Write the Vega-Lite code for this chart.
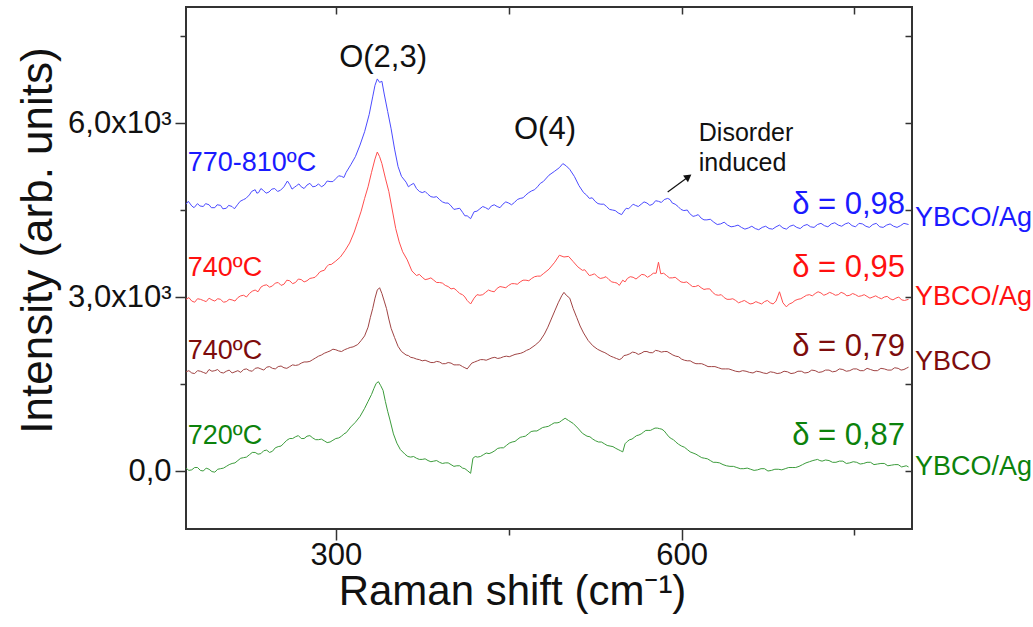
{
  "$schema": "https://vega.github.io/schema/vega-lite/v6.json",
  "width": 726,
  "height": 522,
  "autosize": "none",
  "padding": {"left": 186, "top": 7, "right": 121, "bottom": 98},
  "background": "white",
  "config": {
    "font": "Liberation Sans",
    "view": {"stroke": "#333333", "strokeWidth": 2},
    "axis": {"grid": false, "domain": false, "tickColor": "#333333", "tickWidth": 1.5, "labelColor": "#111111", "titleColor": "#111111", "titleFontWeight": "normal", "labelOverlap": false, "labelFlush": false}
  },
  "datasets": {
    "ag790": [
      {"shift":170,"intensity":4600},{"shift":175,"intensity":4570},{"shift":180,"intensity":4610},{"shift":185,"intensity":4560},{"shift":190,"intensity":4590},{"shift":195,"intensity":4540},{"shift":200,"intensity":4580},{"shift":205,"intensity":4530},{"shift":210,"intensity":4560},{"shift":215,"intensity":4600},{"shift":220,"intensity":4680},{"shift":225,"intensity":4760},{"shift":230,"intensity":4850},{"shift":233,"intensity":4800},{"shift":237,"intensity":4840},{"shift":242,"intensity":4810},{"shift":247,"intensity":4870},{"shift":252,"intensity":4840},{"shift":255,"intensity":4900},{"shift":258,"intensity":5000},{"shift":262,"intensity":4860},{"shift":266,"intensity":4920},{"shift":270,"intensity":4900},{"shift":275,"intensity":4930},{"shift":280,"intensity":4900},{"shift":285,"intensity":4950},{"shift":290,"intensity":4930},{"shift":295,"intensity":4990},{"shift":300,"intensity":5040},{"shift":305,"intensity":5080},{"shift":309,"intensity":5150},{"shift":313,"intensity":5280},{"shift":317,"intensity":5420},{"shift":321,"intensity":5620},{"shift":325,"intensity":5850},{"shift":329,"intensity":6150},{"shift":332,"intensity":6450},{"shift":334,"intensity":6650},{"shift":336,"intensity":6760},{"shift":338,"intensity":6700},{"shift":340,"intensity":6720},{"shift":342,"intensity":6500},{"shift":345,"intensity":6200},{"shift":348,"intensity":5900},{"shift":351,"intensity":5550},{"shift":354,"intensity":5250},{"shift":357,"intensity":5080},{"shift":361,"intensity":4980},{"shift":365,"intensity":4930},{"shift":370,"intensity":4870},{"shift":375,"intensity":4800},{"shift":380,"intensity":4770},{"shift":385,"intensity":4720},{"shift":390,"intensity":4680},{"shift":395,"intensity":4620},{"shift":400,"intensity":4570},{"shift":405,"intensity":4520},{"shift":410,"intensity":4460},{"shift":414,"intensity":4400},{"shift":417,"intensity":4350},{"shift":420,"intensity":4470},{"shift":425,"intensity":4520},{"shift":430,"intensity":4540},{"shift":435,"intensity":4570},{"shift":440,"intensity":4560},{"shift":445,"intensity":4600},{"shift":450,"intensity":4620},{"shift":455,"intensity":4630},{"shift":460,"intensity":4700},{"shift":465,"intensity":4760},{"shift":470,"intensity":4830},{"shift":475,"intensity":4900},{"shift":480,"intensity":4990},{"shift":485,"intensity":5100},{"shift":490,"intensity":5170},{"shift":494,"intensity":5230},{"shift":497,"intensity":5300},{"shift":500,"intensity":5260},{"shift":503,"intensity":5200},{"shift":507,"intensity":5080},{"shift":511,"intensity":4920},{"shift":515,"intensity":4800},{"shift":520,"intensity":4700},{"shift":525,"intensity":4650},{"shift":530,"intensity":4600},{"shift":535,"intensity":4560},{"shift":540,"intensity":4500},{"shift":545,"intensity":4450},{"shift":548,"intensity":4420},{"shift":552,"intensity":4530},{"shift":556,"intensity":4560},{"shift":560,"intensity":4580},{"shift":565,"intensity":4600},{"shift":570,"intensity":4620},{"shift":575,"intensity":4600},{"shift":580,"intensity":4650},{"shift":585,"intensity":4680},{"shift":588,"intensity":4700},{"shift":592,"intensity":4620},{"shift":597,"intensity":4560},{"shift":602,"intensity":4490},{"shift":607,"intensity":4440},{"shift":612,"intensity":4400},{"shift":617,"intensity":4360},{"shift":622,"intensity":4330},{"shift":628,"intensity":4290},{"shift":634,"intensity":4260},{"shift":640,"intensity":4240},{"shift":646,"intensity":4220},{"shift":652,"intensity":4200},{"shift":658,"intensity":4190},{"shift":664,"intensity":4180},{"shift":670,"intensity":4200},{"shift":676,"intensity":4180},{"shift":682,"intensity":4210},{"shift":688,"intensity":4190},{"shift":694,"intensity":4220},{"shift":700,"intensity":4200},{"shift":706,"intensity":4230},{"shift":712,"intensity":4210},{"shift":718,"intensity":4250},{"shift":724,"intensity":4230},{"shift":730,"intensity":4260},{"shift":736,"intensity":4240},{"shift":742,"intensity":4260},{"shift":748,"intensity":4230},{"shift":754,"intensity":4270},{"shift":760,"intensity":4220},{"shift":766,"intensity":4250},{"shift":772,"intensity":4210},{"shift":778,"intensity":4240},{"shift":784,"intensity":4220},{"shift":790,"intensity":4230},{"shift":797,"intensity":4250},
      {"shift":172,"intensity":4650},{"shift":177,"intensity":4540},{"shift":182,"intensity":4570},{"shift":187,"intensity":4610},{"shift":192,"intensity":4540},{"shift":197,"intensity":4590},{"shift":202,"intensity":4520},{"shift":207,"intensity":4580},{"shift":212,"intensity":4520},{"shift":217,"intensity":4650},{"shift":222,"intensity":4700},{"shift":227,"intensity":4820},{"shift":231.5,"intensity":4790},{"shift":235,"intensity":4870},{"shift":239.5,"intensity":4790},{"shift":244.5,"intensity":4860},{"shift":249.5,"intensity":4820},{"shift":260,"intensity":4940},{"shift":264,"intensity":4890},{"shift":268,"intensity":4950},{"shift":272.5,"intensity":4870},{"shift":277.5,"intensity":4960},{"shift":282.5,"intensity":4910},{"shift":287.5,"intensity":4900},{"shift":292.5,"intensity":5000},{"shift":297.5,"intensity":4990},{"shift":302.5,"intensity":5090},{"shift":307,"intensity":5060},
      {"shift":363,"intensity":4900},{"shift":367.5,"intensity":4960},{"shift":372.5,"intensity":4820},{"shift":377.5,"intensity":4820},{"shift":382.5,"intensity":4730},{"shift":387.5,"intensity":4730},{"shift":392.5,"intensity":4640},{"shift":397.5,"intensity":4620},{"shift":402.5,"intensity":4510},{"shift":407.5,"intensity":4530},{"shift":412,"intensity":4400},{"shift":422.5,"intensity":4480},{"shift":427.5,"intensity":4560},{"shift":432.5,"intensity":4510},{"shift":437.5,"intensity":4590},{"shift":442.5,"intensity":4540},{"shift":447.5,"intensity":4640},{"shift":452.5,"intensity":4590},{"shift":457.5,"intensity":4680},{"shift":462.5,"intensity":4710},{"shift":467.5,"intensity":4800},{"shift":472.5,"intensity":4850},{"shift":477.5,"intensity":4960},
      {"shift":517.5,"intensity":4760},{"shift":522.5,"intensity":4710},{"shift":527.5,"intensity":4610},{"shift":532.5,"intensity":4600},{"shift":537.5,"intensity":4510},{"shift":542.5,"intensity":4490},{"shift":550,"intensity":4480},{"shift":554,"intensity":4520},{"shift":558,"intensity":4600},{"shift":562.5,"intensity":4560},{"shift":567.5,"intensity":4640},{"shift":572.5,"intensity":4580},{"shift":577.5,"intensity":4660},{"shift":582.5,"intensity":4630},{"shift":590,"intensity":4680},{"shift":594.5,"intensity":4600},{"shift":599.5,"intensity":4510},
      {"shift":605,"intensity":4500},{"shift":610,"intensity":4390},{"shift":614.5,"intensity":4420},{"shift":619.5,"intensity":4330},{"shift":625,"intensity":4340},{"shift":631,"intensity":4250},{"shift":637,"intensity":4290},{"shift":643,"intensity":4210},{"shift":649,"intensity":4240},{"shift":655,"intensity":4170},{"shift":661,"intensity":4220},{"shift":667,"intensity":4160},{"shift":673,"intensity":4220},{"shift":679,"intensity":4170},{"shift":685,"intensity":4240},{"shift":691,"intensity":4170},{"shift":697,"intensity":4240},{"shift":703,"intensity":4180},{"shift":709,"intensity":4250},{"shift":715,"intensity":4200},{"shift":721,"intensity":4270},{"shift":727,"intensity":4210},{"shift":733,"intensity":4280},{"shift":739,"intensity":4220},{"shift":745,"intensity":4280},{"shift":751,"intensity":4210},{"shift":757,"intensity":4260},{"shift":763,"intensity":4200},{"shift":769,"intensity":4270},{"shift":775,"intensity":4200},{"shift":781,"intensity":4260},{"shift":787,"intensity":4200},{"shift":793,"intensity":4270}
    ],
    "ag740": [
      {"shift":170,"intensity":2960},{"shift":175,"intensity":2930},{"shift":180,"intensity":2970},{"shift":185,"intensity":2940},{"shift":190,"intensity":2980},{"shift":195,"intensity":2930},{"shift":200,"intensity":2960},{"shift":205,"intensity":2920},{"shift":210,"intensity":2950},{"shift":215,"intensity":2990},{"shift":220,"intensity":3030},{"shift":225,"intensity":3060},{"shift":230,"intensity":3120},{"shift":235,"intensity":3170},{"shift":240,"intensity":3210},{"shift":245,"intensity":3190},{"shift":250,"intensity":3250},{"shift":255,"intensity":3220},{"shift":260,"intensity":3280},{"shift":265,"intensity":3250},{"shift":270,"intensity":3300},{"shift":275,"intensity":3280},{"shift":280,"intensity":3330},{"shift":284,"intensity":3380},{"shift":288,"intensity":3450},{"shift":292,"intensity":3520},{"shift":296,"intensity":3560},{"shift":300,"intensity":3620},{"shift":304,"intensity":3690},{"shift":308,"intensity":3800},{"shift":312,"intensity":3930},{"shift":316,"intensity":4120},{"shift":319,"intensity":4300},{"shift":322,"intensity":4480},{"shift":325,"intensity":4700},{"shift":328,"intensity":4900},{"shift":331,"intensity":5150},{"shift":334,"intensity":5380},{"shift":336,"intensity":5500},{"shift":338,"intensity":5420},{"shift":340,"intensity":5300},{"shift":343,"intensity":5050},{"shift":346,"intensity":4820},{"shift":349,"intensity":4500},{"shift":352,"intensity":4180},{"shift":355,"intensity":3950},{"shift":358,"intensity":3780},{"shift":362,"intensity":3640},{"shift":366,"intensity":3450},{"shift":370,"intensity":3370},{"shift":375,"intensity":3340},{"shift":380,"intensity":3310},{"shift":385,"intensity":3290},{"shift":390,"intensity":3250},{"shift":395,"intensity":3200},{"shift":400,"intensity":3140},{"shift":405,"intensity":3110},{"shift":410,"intensity":3040},{"shift":414,"intensity":2940},{"shift":417,"intensity":2880},{"shift":420,"intensity":2980},{"shift":425,"intensity":3030},{"shift":430,"intensity":3080},{"shift":435,"intensity":3100},{"shift":440,"intensity":3150},{"shift":445,"intensity":3170},{"shift":450,"intensity":3200},{"shift":455,"intensity":3230},{"shift":460,"intensity":3260},{"shift":465,"intensity":3290},{"shift":470,"intensity":3320},{"shift":475,"intensity":3360},{"shift":480,"intensity":3400},{"shift":485,"intensity":3480},{"shift":490,"intensity":3600},{"shift":494,"intensity":3720},{"shift":498,"intensity":3690},{"shift":502,"intensity":3700},{"shift":506,"intensity":3610},{"shift":510,"intensity":3520},{"shift":514,"intensity":3460},{"shift":518,"intensity":3420},{"shift":522,"intensity":3380},{"shift":527,"intensity":3350},{"shift":532,"intensity":3330},{"shift":537,"intensity":3300},{"shift":542,"intensity":3250},{"shift":546,"intensity":3200},{"shift":549,"intensity":3290},{"shift":553,"intensity":3320},{"shift":558,"intensity":3340},{"shift":563,"intensity":3350},{"shift":568,"intensity":3380},{"shift":573,"intensity":3370},{"shift":578,"intensity":3410},{"shift":580,"intensity":3600},{"shift":582,"intensity":3400},{"shift":587,"intensity":3370},{"shift":592,"intensity":3330},{"shift":597,"intensity":3300},{"shift":602,"intensity":3250},{"shift":607,"intensity":3220},{"shift":612,"intensity":3180},{"shift":617,"intensity":3160},{"shift":622,"intensity":3140},{"shift":627,"intensity":3080},{"shift":632,"intensity":3030},{"shift":637,"intensity":2990},{"shift":642,"intensity":2960},{"shift":647,"intensity":2940},{"shift":652,"intensity":2920},{"shift":657,"intensity":2910},{"shift":662,"intensity":2890},{"shift":667,"intensity":2900},{"shift":672,"intensity":2920},{"shift":677,"intensity":2900},{"shift":682,"intensity":2930},{"shift":685,"intensity":3090},{"shift":688,"intensity":2900},{"shift":691,"intensity":2830},{"shift":696,"intensity":2900},{"shift":701,"intensity":2960},{"shift":706,"intensity":3000},{"shift":711,"intensity":3040},{"shift":716,"intensity":3060},{"shift":721,"intensity":3070},{"shift":726,"intensity":3050},{"shift":731,"intensity":3060},{"shift":736,"intensity":3040},{"shift":741,"intensity":3060},{"shift":746,"intensity":3030},{"shift":751,"intensity":3040},{"shift":756,"intensity":3020},{"shift":761,"intensity":3010},{"shift":766,"intensity":3000},{"shift":771,"intensity":2990},{"shift":776,"intensity":3000},{"shift":781,"intensity":2970},{"shift":786,"intensity":2980},{"shift":791,"intensity":2950},{"shift":797,"intensity":2960},
      {"shift":172.5,"intensity":2990},{"shift":177.5,"intensity":2910},{"shift":182.5,"intensity":2960},{"shift":187.5,"intensity":2920},{"shift":192.5,"intensity":2950},{"shift":197.5,"intensity":2970},{"shift":202.5,"intensity":2910},{"shift":207.5,"intensity":2960},{"shift":212.5,"intensity":2930},{"shift":217.5,"intensity":3020},{"shift":222.5,"intensity":3000},{"shift":227.5,"intensity":3100},{"shift":232.5,"intensity":3090},{"shift":237.5,"intensity":3200},{"shift":242.5,"intensity":3170},{"shift":247.5,"intensity":3240},{"shift":252.5,"intensity":3200},{"shift":257.5,"intensity":3290},{"shift":262.5,"intensity":3230},{"shift":267.5,"intensity":3310},{"shift":272.5,"intensity":3260},{"shift":277.5,"intensity":3320},{"shift":282,"intensity":3340},{"shift":286,"intensity":3430},{"shift":290,"intensity":3460},{"shift":294,"intensity":3560},
      {"shift":372.5,"intensity":3390},{"shift":377.5,"intensity":3300},{"shift":382.5,"intensity":3330},{"shift":387.5,"intensity":3250},{"shift":392.5,"intensity":3240},{"shift":397.5,"intensity":3180},{"shift":402.5,"intensity":3150},{"shift":407.5,"intensity":3060},{"shift":412,"intensity":3000},{"shift":422.5,"intensity":3040},{"shift":427.5,"intensity":3040},{"shift":432.5,"intensity":3120},{"shift":437.5,"intensity":3090},{"shift":442.5,"intensity":3180},{"shift":447.5,"intensity":3160},{"shift":452.5,"intensity":3230},{"shift":457.5,"intensity":3220},{"shift":462.5,"intensity":3290},{"shift":467.5,"intensity":3280},{"shift":472.5,"intensity":3350},{"shift":477.5,"intensity":3360},
      {"shift":516,"intensity":3470},{"shift":520,"intensity":3370},{"shift":524.5,"intensity":3400},{"shift":529.5,"intensity":3320},{"shift":534.5,"intensity":3350},{"shift":539.5,"intensity":3260},{"shift":544,"intensity":3240},{"shift":551,"intensity":3260},{"shift":555.5,"intensity":3350},{"shift":560.5,"intensity":3310},{"shift":565.5,"intensity":3390},{"shift":570.5,"intensity":3340},{"shift":575.5,"intensity":3410},{"shift":584.5,"intensity":3410},{"shift":589.5,"intensity":3330},{"shift":594.5,"intensity":3340},{"shift":599.5,"intensity":3260},{"shift":604.5,"intensity":3260},{"shift":609.5,"intensity":3180},{"shift":614.5,"intensity":3200},{"shift":619.5,"intensity":3130},{"shift":624.5,"intensity":3140},{"shift":629.5,"intensity":3040},{"shift":634.5,"intensity":3040},{"shift":639.5,"intensity":2960},{"shift":644.5,"intensity":2970},{"shift":649.5,"intensity":2900},{"shift":654.5,"intensity":2940},{"shift":659.5,"intensity":2880},{"shift":664.5,"intensity":2920},{"shift":669.5,"intensity":2880},{"shift":674.5,"intensity":2940},{"shift":679.5,"intensity":2880},{"shift":693.5,"intensity":2880},{"shift":698.5,"intensity":2940},{"shift":703.5,"intensity":2970},{"shift":708.5,"intensity":3030},{"shift":713.5,"intensity":3020},{"shift":718.5,"intensity":3090},{"shift":723.5,"intensity":3030},{"shift":728.5,"intensity":3080},{"shift":733.5,"intensity":3030},{"shift":738.5,"intensity":3080},{"shift":743.5,"intensity":3020},{"shift":748.5,"intensity":3060},{"shift":753.5,"intensity":3010},{"shift":758.5,"intensity":3040},{"shift":763.5,"intensity":2980},{"shift":768.5,"intensity":3020},{"shift":773.5,"intensity":2970},{"shift":778.5,"intensity":3010},{"shift":783.5,"intensity":2950},{"shift":788.5,"intensity":3000},{"shift":793.5,"intensity":2940}
    ],
    "ybco740": [
      {"shift":170,"intensity":1710},{"shift":175,"intensity":1690},{"shift":180,"intensity":1730},{"shift":185,"intensity":1700},{"shift":190,"intensity":1750},{"shift":195,"intensity":1730},{"shift":200,"intensity":1700},{"shift":205,"intensity":1720},{"shift":210,"intensity":1690},{"shift":215,"intensity":1730},{"shift":220,"intensity":1750},{"shift":225,"intensity":1730},{"shift":230,"intensity":1770},{"shift":235,"intensity":1760},{"shift":240,"intensity":1790},{"shift":245,"intensity":1770},{"shift":250,"intensity":1800},{"shift":255,"intensity":1780},{"shift":260,"intensity":1800},{"shift":265,"intensity":1820},{"shift":270,"intensity":1860},{"shift":275,"intensity":1880},{"shift":280,"intensity":1920},{"shift":285,"intensity":1980},{"shift":290,"intensity":2030},{"shift":295,"intensity":2070},{"shift":300,"intensity":2090},{"shift":305,"intensity":2060},{"shift":310,"intensity":2110},{"shift":315,"intensity":2140},{"shift":319,"intensity":2180},{"shift":322,"intensity":2250},{"shift":325,"intensity":2330},{"shift":328,"intensity":2480},{"shift":330,"intensity":2650},{"shift":332,"intensity":2800},{"shift":334,"intensity":2980},{"shift":336,"intensity":3120},{"shift":338,"intensity":3160},{"shift":340,"intensity":3060},{"shift":342,"intensity":2930},{"shift":344,"intensity":2800},{"shift":346,"intensity":2620},{"shift":348,"intensity":2460},{"shift":351,"intensity":2300},{"shift":354,"intensity":2150},{"shift":357,"intensity":2060},{"shift":361,"intensity":2000},{"shift":365,"intensity":1960},{"shift":370,"intensity":1930},{"shift":375,"intensity":1900},{"shift":380,"intensity":1890},{"shift":385,"intensity":1870},{"shift":390,"intensity":1880},{"shift":395,"intensity":1850},{"shift":400,"intensity":1860},{"shift":405,"intensity":1830},{"shift":410,"intensity":1800},{"shift":414,"intensity":1760},{"shift":418,"intensity":1860},{"shift":423,"intensity":1900},{"shift":428,"intensity":1920},{"shift":433,"intensity":1930},{"shift":438,"intensity":1960},{"shift":443,"intensity":1950},{"shift":448,"intensity":1980},{"shift":453,"intensity":1990},{"shift":458,"intensity":2020},{"shift":463,"intensity":2050},{"shift":468,"intensity":2100},{"shift":473,"intensity":2170},{"shift":477,"intensity":2240},{"shift":481,"intensity":2360},{"shift":484,"intensity":2480},{"shift":487,"intensity":2620},{"shift":490,"intensity":2760},{"shift":493,"intensity":2900},{"shift":496,"intensity":3020},{"shift":498,"intensity":3080},{"shift":500,"intensity":3030},{"shift":503,"intensity":2980},{"shift":506,"intensity":2800},{"shift":509,"intensity":2650},{"shift":512,"intensity":2500},{"shift":515,"intensity":2380},{"shift":519,"intensity":2250},{"shift":523,"intensity":2160},{"shift":527,"intensity":2100},{"shift":531,"intensity":2060},{"shift":536,"intensity":2010},{"shift":541,"intensity":1960},{"shift":546,"intensity":1920},{"shift":550,"intensity":1990},{"shift":555,"intensity":2020},{"shift":560,"intensity":2040},{"shift":565,"intensity":2030},{"shift":570,"intensity":2060},{"shift":575,"intensity":2040},{"shift":580,"intensity":2070},{"shift":585,"intensity":2060},{"shift":590,"intensity":2030},{"shift":595,"intensity":1980},{"shift":600,"intensity":1930},{"shift":605,"intensity":1900},{"shift":610,"intensity":1870},{"shift":615,"intensity":1850},{"shift":620,"intensity":1830},{"shift":626,"intensity":1800},{"shift":632,"intensity":1780},{"shift":638,"intensity":1760},{"shift":644,"intensity":1740},{"shift":650,"intensity":1710},{"shift":656,"intensity":1720},{"shift":662,"intensity":1690},{"shift":668,"intensity":1710},{"shift":674,"intensity":1680},{"shift":680,"intensity":1700},{"shift":686,"intensity":1690},{"shift":692,"intensity":1710},{"shift":698,"intensity":1690},{"shift":704,"intensity":1720},{"shift":710,"intensity":1700},{"shift":716,"intensity":1730},{"shift":722,"intensity":1710},{"shift":728,"intensity":1740},{"shift":734,"intensity":1720},{"shift":740,"intensity":1750},{"shift":746,"intensity":1730},{"shift":752,"intensity":1760},{"shift":758,"intensity":1730},{"shift":764,"intensity":1750},{"shift":770,"intensity":1730},{"shift":776,"intensity":1760},{"shift":782,"intensity":1740},{"shift":788,"intensity":1770},{"shift":793,"intensity":1750},{"shift":797,"intensity":1790},
      {"shift":172.5,"intensity":1730},{"shift":177.5,"intensity":1680},{"shift":182.5,"intensity":1720},{"shift":187.5,"intensity":1680},{"shift":192.5,"intensity":1720},{"shift":197.5,"intensity":1750},{"shift":202.5,"intensity":1690},{"shift":207.5,"intensity":1740},{"shift":212.5,"intensity":1710},{"shift":217.5,"intensity":1700},{"shift":222.5,"intensity":1760},{"shift":227.5,"intensity":1720},{"shift":232.5,"intensity":1780},{"shift":237.5,"intensity":1740},{"shift":242.5,"intensity":1800},{"shift":247.5,"intensity":1760},{"shift":252.5,"intensity":1810},{"shift":257.5,"intensity":1770},{"shift":262.5,"intensity":1830},{"shift":267.5,"intensity":1830},{"shift":272.5,"intensity":1880},{"shift":277.5,"intensity":1890},{"shift":282.5,"intensity":1950},{"shift":287.5,"intensity":2000},{"shift":292.5,"intensity":2050},{"shift":297.5,"intensity":2100},{"shift":302.5,"intensity":2070},{"shift":307.5,"intensity":2090},{"shift":312.5,"intensity":2130},
      {"shift":363,"intensity":1990},{"shift":367.5,"intensity":1950},{"shift":372.5,"intensity":1920},{"shift":377.5,"intensity":1910},{"shift":382.5,"intensity":1870},{"shift":387.5,"intensity":1890},{"shift":392.5,"intensity":1850},{"shift":397.5,"intensity":1870},{"shift":402.5,"intensity":1830},{"shift":407.5,"intensity":1830},{"shift":412,"intensity":1780},{"shift":420.5,"intensity":1880},{"shift":425.5,"intensity":1920},{"shift":430.5,"intensity":1910},{"shift":435.5,"intensity":1950},{"shift":440.5,"intensity":1940},{"shift":445.5,"intensity":1970},{"shift":450.5,"intensity":1970},{"shift":455.5,"intensity":2010},{"shift":460.5,"intensity":2030},{"shift":465.5,"intensity":2080},
      {"shift":533.5,"intensity":2040},{"shift":538.5,"intensity":1980},{"shift":543.5,"intensity":1940},{"shift":548,"intensity":1940},{"shift":552.5,"intensity":2000},{"shift":557.5,"intensity":2050},{"shift":562.5,"intensity":2010},{"shift":567.5,"intensity":2060},{"shift":572.5,"intensity":2040},{"shift":577.5,"intensity":2080},{"shift":582.5,"intensity":2050},{"shift":587.5,"intensity":2060},{"shift":592.5,"intensity":2000},{"shift":597.5,"intensity":1970},{"shift":602.5,"intensity":1910},{"shift":607.5,"intensity":1900},{"shift":612.5,"intensity":1850},{"shift":617.5,"intensity":1850},{"shift":623,"intensity":1800},{"shift":629,"intensity":1800},{"shift":635,"intensity":1760},{"shift":641,"intensity":1760},{"shift":647,"intensity":1720},{"shift":653,"intensity":1730},{"shift":659,"intensity":1700},{"shift":665,"intensity":1720},{"shift":671,"intensity":1690},{"shift":677,"intensity":1710},{"shift":683,"intensity":1680},{"shift":689,"intensity":1720},{"shift":695,"intensity":1680},{"shift":701,"intensity":1720},{"shift":707,"intensity":1690},{"shift":713,"intensity":1740},{"shift":719,"intensity":1700},{"shift":725,"intensity":1740},{"shift":731,"intensity":1710},{"shift":737,"intensity":1760},{"shift":743,"intensity":1720},{"shift":749,"intensity":1760},{"shift":755,"intensity":1730},{"shift":761,"intensity":1770},{"shift":767,"intensity":1730},{"shift":773,"intensity":1770},{"shift":779,"intensity":1740},{"shift":785,"intensity":1780},{"shift":790.5,"intensity":1740},{"shift":795,"intensity":1770}
    ],
    "ag720": [
      {"shift":170,"intensity":50},{"shift":175,"intensity":20},{"shift":180,"intensity":60},{"shift":185,"intensity":0},{"shift":190,"intensity":30},{"shift":195,"intensity":-20},{"shift":200,"intensity":40},{"shift":205,"intensity":80},{"shift":210,"intensity":130},{"shift":215,"intensity":180},{"shift":220,"intensity":230},{"shift":225,"intensity":280},{"shift":230,"intensity":320},{"shift":235,"intensity":300},{"shift":240,"intensity":360},{"shift":245,"intensity":340},{"shift":250,"intensity":420},{"shift":255,"intensity":480},{"shift":260,"intensity":560},{"shift":265,"intensity":590},{"shift":270,"intensity":560},{"shift":275,"intensity":600},{"shift":280,"intensity":570},{"shift":285,"intensity":540},{"shift":290,"intensity":520},{"shift":295,"intensity":500},{"shift":300,"intensity":560},{"shift":305,"intensity":600},{"shift":309,"intensity":660},{"shift":313,"intensity":760},{"shift":317,"intensity":840},{"shift":321,"intensity":940},{"shift":325,"intensity":1080},{"shift":328,"intensity":1200},{"shift":331,"intensity":1320},{"shift":333,"intensity":1420},{"shift":335,"intensity":1510},{"shift":337,"intensity":1540},{"shift":339,"intensity":1470},{"shift":341,"intensity":1390},{"shift":343,"intensity":1200},{"shift":345,"intensity":1030},{"shift":347,"intensity":880},{"shift":350,"intensity":640},{"shift":353,"intensity":480},{"shift":356,"intensity":370},{"shift":360,"intensity":290},{"shift":365,"intensity":240},{"shift":370,"intensity":220},{"shift":375,"intensity":200},{"shift":380,"intensity":180},{"shift":385,"intensity":170},{"shift":390,"intensity":150},{"shift":395,"intensity":140},{"shift":400,"intensity":110},{"shift":405,"intensity":90},{"shift":410,"intensity":50},{"shift":414,"intensity":10},{"shift":417,"intensity":-40},{"shift":419,"intensity":220},{"shift":423,"intensity":240},{"shift":428,"intensity":280},{"shift":433,"intensity":300},{"shift":438,"intensity":350},{"shift":443,"intensity":400},{"shift":448,"intensity":440},{"shift":453,"intensity":500},{"shift":458,"intensity":550},{"shift":462,"intensity":590},{"shift":467,"intensity":640},{"shift":472,"intensity":690},{"shift":477,"intensity":720},{"shift":482,"intensity":760},{"shift":487,"intensity":800},{"shift":492,"intensity":830},{"shift":496,"intensity":870},{"shift":499,"intensity":910},{"shift":502,"intensity":870},{"shift":506,"intensity":820},{"shift":510,"intensity":740},{"shift":514,"intensity":650},{"shift":518,"intensity":600},{"shift":523,"intensity":550},{"shift":528,"intensity":500},{"shift":533,"intensity":470},{"shift":538,"intensity":430},{"shift":543,"intensity":390},{"shift":547,"intensity":350},{"shift":551,"intensity":470},{"shift":555,"intensity":540},{"shift":559,"intensity":580},{"shift":563,"intensity":620},{"shift":567,"intensity":670},{"shift":571,"intensity":700},{"shift":575,"intensity":720},{"shift":579,"intensity":740},{"shift":583,"intensity":720},{"shift":587,"intensity":640},{"shift":591,"intensity":560},{"shift":595,"intensity":500},{"shift":600,"intensity":430},{"shift":605,"intensity":370},{"shift":610,"intensity":310},{"shift":615,"intensity":260},{"shift":620,"intensity":220},{"shift":625,"intensity":180},{"shift":630,"intensity":150},{"shift":636,"intensity":110},{"shift":642,"intensity":80},{"shift":648,"intensity":60},{"shift":654,"intensity":40},{"shift":660,"intensity":30},{"shift":666,"intensity":20},{"shift":672,"intensity":40},{"shift":678,"intensity":10},{"shift":684,"intensity":30},{"shift":690,"intensity":40},{"shift":696,"intensity":60},{"shift":702,"intensity":80},{"shift":708,"intensity":140},{"shift":714,"intensity":180},{"shift":718,"intensity":200},{"shift":722,"intensity":170},{"shift":728,"intensity":180},{"shift":734,"intensity":150},{"shift":740,"intensity":170},{"shift":746,"intensity":140},{"shift":752,"intensity":150},{"shift":758,"intensity":130},{"shift":764,"intensity":150},{"shift":770,"intensity":120},{"shift":776,"intensity":130},{"shift":782,"intensity":100},{"shift":788,"intensity":110},{"shift":793,"intensity":80},{"shift":797,"intensity":70},
      {"shift":172.5,"intensity":10},{"shift":177.5,"intensity":60},{"shift":182.5,"intensity":10},{"shift":187.5,"intensity":50},{"shift":192.5,"intensity":-10},{"shift":197.5,"intensity":30},{"shift":202.5,"intensity":50},{"shift":207.5,"intensity":110},{"shift":212.5,"intensity":140},{"shift":217.5,"intensity":220},{"shift":222.5,"intensity":240},{"shift":227.5,"intensity":320},{"shift":232.5,"intensity":290},{"shift":237.5,"intensity":350},{"shift":242.5,"intensity":320},{"shift":247.5,"intensity":400},{"shift":252.5,"intensity":430},{"shift":257.5,"intensity":530},{"shift":262.5,"intensity":560},{"shift":267.5,"intensity":610},{"shift":272.5,"intensity":560},{"shift":277.5,"intensity":610},{"shift":282.5,"intensity":540},{"shift":287.5,"intensity":550},{"shift":292.5,"intensity":490},{"shift":297.5,"intensity":530},{"shift":302.5,"intensity":570},{"shift":307,"intensity":640},
      {"shift":362.5,"intensity":250},{"shift":367.5,"intensity":250},{"shift":372.5,"intensity":200},{"shift":377.5,"intensity":210},{"shift":382.5,"intensity":160},{"shift":387.5,"intensity":180},{"shift":392.5,"intensity":130},{"shift":397.5,"intensity":140},{"shift":402.5,"intensity":80},{"shift":407.5,"intensity":90},{"shift":412,"intensity":40},{"shift":421,"intensity":250},{"shift":425.5,"intensity":250},{"shift":430.5,"intensity":310},{"shift":435.5,"intensity":320},{"shift":440.5,"intensity":390},{"shift":445.5,"intensity":400},{"shift":450.5,"intensity":480},{"shift":455.5,"intensity":510},{"shift":460,"intensity":580},{"shift":464.5,"intensity":600},{"shift":469.5,"intensity":680},{"shift":474.5,"intensity":690},{"shift":479.5,"intensity":750},{"shift":484.5,"intensity":770},{"shift":489.5,"intensity":830},{"shift":494,"intensity":840},
      {"shift":520.5,"intensity":590},{"shift":525.5,"intensity":520},{"shift":530.5,"intensity":500},{"shift":535.5,"intensity":440},{"shift":540.5,"intensity":420},{"shift":545,"intensity":370},{"shift":549,"intensity":330},{"shift":553,"intensity":510},{"shift":557,"intensity":550},{"shift":561,"intensity":610},{"shift":565,"intensity":640},{"shift":569,"intensity":700},{"shift":573,"intensity":700},{"shift":577,"intensity":740},{"shift":581,"intensity":730},{"shift":585,"intensity":690},{"shift":589,"intensity":590},{"shift":593,"intensity":540},{"shift":597.5,"intensity":460},{"shift":602.5,"intensity":410},{"shift":607.5,"intensity":330},{"shift":612.5,"intensity":290},{"shift":617.5,"intensity":230},{"shift":622.5,"intensity":210},{"shift":627.5,"intensity":150},{"shift":633,"intensity":140},{"shift":639,"intensity":90},{"shift":645,"intensity":80},{"shift":651,"intensity":40},{"shift":657,"intensity":50},{"shift":663,"intensity":10},{"shift":669,"intensity":40},{"shift":675,"intensity":0},{"shift":681,"intensity":30},{"shift":687,"intensity":20},{"shift":693,"intensity":60},{"shift":699,"intensity":60},{"shift":705,"intensity":110},{"shift":711,"intensity":160},{"shift":716,"intensity":190},{"shift":720,"intensity":180},{"shift":725,"intensity":190},{"shift":731,"intensity":150},{"shift":737,"intensity":170},{"shift":743,"intensity":130},{"shift":749,"intensity":160},{"shift":755,"intensity":120},{"shift":761,"intensity":150},{"shift":767,"intensity":110},{"shift":773,"intensity":130},{"shift":779,"intensity":90},{"shift":785,"intensity":110},{"shift":791,"intensity":70},{"shift":795,"intensity":90}
    ],
    "labels": [
      {"kind":"temp","series":"ag790","text":"770-810ºC","shift":171.5,"intensity":5310},
      {"kind":"temp","series":"ag740","text":"740ºC","shift":171.5,"intensity":3500},
      {"kind":"temp","series":"ybco740","text":"740ºC","shift":171.5,"intensity":2069},
      {"kind":"temp","series":"ag720","text":"720ºC","shift":171.5,"intensity":603},
      {"kind":"delta","series":"ag790","text":"δ = 0,98","shift":794,"intensity":4586},
      {"kind":"delta","series":"ag740","text":"δ = 0,95","shift":794,"intensity":3500},
      {"kind":"delta","series":"ybco740","text":"δ = 0,79","shift":794,"intensity":2138},
      {"kind":"delta","series":"ag720","text":"δ = 0,87","shift":794,"intensity":603},
      {"kind":"sample","series":"ag790","text":"YBCO/Ag","shift":802.5,"intensity":4362},
      {"kind":"sample","series":"ag740","text":"YBCO/Ag","shift":802.5,"intensity":3000},
      {"kind":"sample","series":"ybco740","text":"YBCO","shift":802.5,"intensity":1879},
      {"kind":"sample","series":"ag720","text":"YBCO/Ag","shift":802.5,"intensity":69}
    ],
    "peaks": [
      {"text":"O(2,3)","shift":341,"intensity":7120},
      {"text":"O(4)","shift":481.5,"intensity":5879}
    ],
    "notes": [
      {"text":"Disorder","shift":615,"intensity":5827},
      {"text":"induced","shift":615,"intensity":5310}
    ],
    "arrow": [
      {"shift":588,"intensity":4810,"shift_end":606,"intensity_end":5075}
    ]
  },
  "layer": [
    {
      "data": {"name": "ag790"},
      "mark": {"type": "line", "color": "#4b4bff", "strokeWidth": 1},
      "encoding": {
        "x": {"field": "shift", "type": "quantitative",
          "scale": {"domain": [170, 800], "nice": false, "zero": false},
          "axis": {"orient": "bottom", "values": [300, 450, 600, 750],
            "labelExpr": "datum.value % 300 === 0 ? datum.label : ''",
            "tickSize": {"condition": {"test": "datum.value % 300 === 0", "value": 11}, "value": 6},
            "labelFontSize": 31, "labelPadding": 0,
            "title": "Raman shift (cm⁻¹)", "titleFontSize": 42,
            "titleX": 326, "titleY": 75, "titleBaseline": "alphabetic", "titleAlign": "center"}},
        "y": {"field": "intensity", "type": "quantitative",
          "scale": {"domain": [-1000, 8000], "nice": false, "zero": false},
          "axis": {"orient": "left", "values": [0, 1500, 3000, 4500, 6000, 7500],
            "labelExpr": "datum.value === 0 ? '0,0' : (datum.value % 3000 === 0 ? replace(format(datum.value / 1000, '.1f'), '.', ',') + 'x10³' : '')",
            "tickSize": {"condition": {"test": "datum.value % 3000 === 0", "value": 11}, "value": 6},
            "labelFontSize": 31, "labelPadding": 4,
            "title": "Intensity (arb. units)", "titleFontSize": 44,
            "titleX": -135, "titleY": 233, "titleBaseline": "alphabetic", "titleAlign": "center", "titleAngle": -90}}
      }
    },
    {
      "data": {"name": "ag740"},
      "mark": {"type": "line", "color": "#ff4f4f", "strokeWidth": 1},
      "encoding": {
        "x": {"field": "shift", "type": "quantitative",
          "axis": {"orient": "top", "values": [300, 450, 600, 750], "labels": false, "tickSize": -7, "title": null}},
        "y": {"field": "intensity", "type": "quantitative",
          "axis": {"orient": "right", "values": [0, 1500, 3000, 4500, 6000, 7500], "labels": false, "tickSize": -7, "title": null}}
      }
    },
    {
      "data": {"name": "ybco740"},
      "mark": {"type": "line", "color": "#a04444", "strokeWidth": 1},
      "encoding": {
        "x": {"field": "shift", "type": "quantitative", "axis": null},
        "y": {"field": "intensity", "type": "quantitative", "axis": null}
      }
    },
    {
      "data": {"name": "ag720"},
      "mark": {"type": "line", "color": "#3c9c3c", "strokeWidth": 1},
      "encoding": {
        "x": {"field": "shift", "type": "quantitative", "axis": null},
        "y": {"field": "intensity", "type": "quantitative", "axis": null}
      }
    },
    {
      "data": {"name": "labels"},
      "transform": [{"filter": "datum.kind === 'temp'"}],
      "mark": {"type": "text", "align": "left", "baseline": "middle", "fontSize": 27},
      "encoding": {
        "x": {"field": "shift", "type": "quantitative", "axis": null},
        "y": {"field": "intensity", "type": "quantitative", "axis": null},
        "text": {"field": "text"},
        "fill": {"field": "series", "type": "nominal", "legend": null,
          "scale": {"domain": ["ag790", "ag740", "ybco740", "ag720"], "range": ["#1a1aff", "#ff1010", "#7d0c0c", "#0c820c"]}}
      }
    },
    {
      "data": {"name": "labels"},
      "transform": [{"filter": "datum.kind === 'delta'"}],
      "mark": {"type": "text", "align": "right", "baseline": "middle", "fontSize": 31},
      "encoding": {
        "x": {"field": "shift", "type": "quantitative", "axis": null},
        "y": {"field": "intensity", "type": "quantitative", "axis": null},
        "text": {"field": "text"},
        "fill": {"field": "series", "type": "nominal", "legend": null}
      }
    },
    {
      "data": {"name": "labels"},
      "transform": [{"filter": "datum.kind === 'sample'"}],
      "mark": {"type": "text", "align": "left", "baseline": "middle", "fontSize": 27},
      "encoding": {
        "x": {"field": "shift", "type": "quantitative", "axis": null},
        "y": {"field": "intensity", "type": "quantitative", "axis": null},
        "text": {"field": "text"},
        "fill": {"field": "series", "type": "nominal", "legend": null}
      }
    },
    {
      "data": {"name": "peaks"},
      "mark": {"type": "text", "align": "center", "baseline": "middle", "fontSize": 31, "color": "#111111"},
      "encoding": {
        "x": {"field": "shift", "type": "quantitative", "axis": null},
        "y": {"field": "intensity", "type": "quantitative", "axis": null},
        "text": {"field": "text"}
      }
    },
    {
      "data": {"name": "notes"},
      "mark": {"type": "text", "align": "left", "baseline": "middle", "fontSize": 25, "color": "#111111"},
      "encoding": {
        "x": {"field": "shift", "type": "quantitative", "axis": null},
        "y": {"field": "intensity", "type": "quantitative", "axis": null},
        "text": {"field": "text"}
      }
    },
    {
      "data": {"name": "arrow"},
      "mark": {"type": "rule", "color": "#111111", "strokeWidth": 1.2},
      "encoding": {
        "x": {"field": "shift", "type": "quantitative", "axis": null},
        "y": {"field": "intensity", "type": "quantitative", "axis": null},
        "x2": {"field": "shift_end"},
        "y2": {"field": "intensity_end"}
      }
    },
    {
      "data": {"name": "arrow"},
      "mark": {"type": "point", "shape": "triangle-up", "filled": true, "color": "#111111", "size": 70, "angle": 54, "opacity": 1},
      "encoding": {
        "x": {"field": "shift_end", "type": "quantitative", "axis": null},
        "y": {"field": "intensity_end", "type": "quantitative", "axis": null}
      }
    }
  ],
  "resolve": {"axis": {"x": "independent", "y": "independent"}}
}
